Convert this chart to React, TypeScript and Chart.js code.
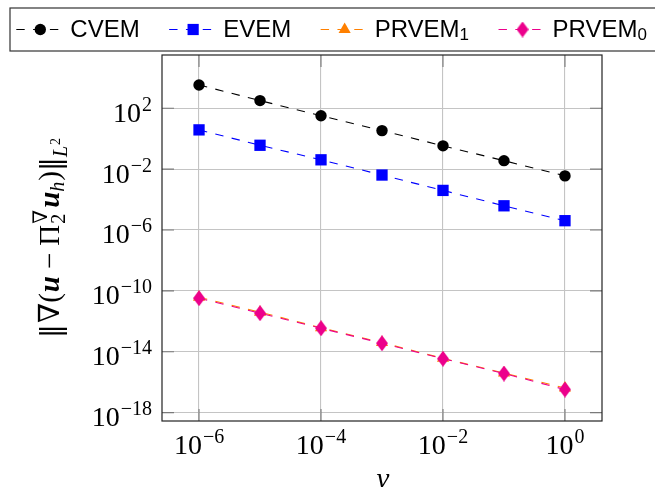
import React, { useEffect, useRef } from "react";
import { Chart, registerables } from "chart.js";

Chart.register(...registerables);

// ---------- data ----------
const nu = [1e-6, 1e-5, 1e-4, 1e-3, 1e-2, 1e-1, 1];
const cvem = [3.4e3, 3.2e2, 3.2e1, 3.4, 3.4e-1, 3.6e-2, 3.6e-3];
const evem = [3.8, 3.7e-1, 4.1e-2, 4.1e-3, 4.0e-4, 3.9e-5, 4.1e-6];
const prvem1 = [3.8e-11, 4.0e-12, 3.8e-13, 4.0e-14, 3.7e-15, 4.0e-16, 4.2e-17];
const prvem0 = [3.3e-11, 3.4e-12, 3.5e-13, 3.6e-14, 3.5e-15, 3.7e-16, 3.3e-17];
const seriesLabels = ["CVEM", "EVEM", "PRVEM₁", "PRVEM₀"];
const xTickExponents = [-6, -4, -2, 0];
const yTickExponents = [2, -2, -6, -10, -14, -18];
const xTitle = "ν";

// ---------- styles ----------
const SERIF = '"Liberation Serif", "DejaVu Serif", serif';
const DJ = '"DejaVu Serif", serif';
const SANS = '"Liberation Sans", Arial, sans-serif';
const COLORS = ["#000000", "#0000ff", "#ff8000", "#ec008c"];
const DASH = [8.4, 8.4];

const SUBMAP: Record<string, string> = {
  "₀": "0", "₁": "1", "₂": "2", "₃": "3", "₄": "4",
  "₅": "5", "₆": "6", "₇": "7", "₈": "8", "₉": "9",
};

function makeDiamond(w: number, h: number, color: string) {
  const c = document.createElement("canvas");
  c.width = w;
  c.height = h;
  const g = c.getContext("2d")!;
  g.fillStyle = color;
  g.beginPath();
  g.moveTo(w / 2, 0);
  g.lineTo(w, h / 2);
  g.lineTo(w / 2, h);
  g.lineTo(0, h / 2);
  g.closePath();
  g.fill();
  return c;
}

function drawPow(
  ctx: CanvasRenderingContext2D,
  exp: number,
  x: number,
  baseY: number,
  align: "right" | "center"
) {
  const mainFont = `28px ${SERIF}`;
  const expFont = `20px ${SERIF}`;
  const expStr = exp < 0 ? "−" + Math.abs(exp) : String(exp);
  ctx.font = mainFont;
  const w1 = ctx.measureText("10").width;
  ctx.font = expFont;
  const w2 = ctx.measureText(expStr).width;
  const total = w1 + 1 + w2;
  const sx = align === "right" ? x - total : x - total / 2;
  ctx.textAlign = "left";
  ctx.textBaseline = "alphabetic";
  ctx.fillStyle = "#000";
  ctx.font = mainFont;
  ctx.fillText("10", sx, baseY);
  ctx.font = expFont;
  ctx.fillText(expStr, sx + w1 + 1, baseY - 11);
}

type Seg = { t: string; f: string; dy?: number; dx?: number; overlay?: boolean };

const yTitleSegs: Seg[] = [
  { t: "‖", f: `28px ${DJ}`, dy: 1 },
  { t: "∇(", f: `29px ${SERIF}`, dx: 1 },
  { t: "u", f: `italic bold 29px ${SERIF}`, dx: 1 },
  { t: "−", f: `29px ${SERIF}`, dx: 7 },
  { t: "Π", f: `29px ${SERIF}`, dx: 7 },
  { t: "2", f: `20px ${SERIF}`, dy: 6, dx: 1 },
  { t: "∇", f: `20px ${SERIF}`, dy: -12, overlay: true },
  { t: "u", f: `italic bold 29px ${SERIF}`, dx: 2 },
  { t: "h", f: `italic 20px ${SERIF}`, dy: 5 },
  { t: ")", f: `29px ${SERIF}`, dx: 1 },
  { t: "‖", f: `28px ${DJ}`, dy: 1 },
  { t: "L", f: `italic 20px ${SERIF}`, dy: 8 },
  { t: "2", f: `14px ${SERIF}`, dy: 1, dx: 1 },
];

function layoutSegs(ctx: CanvasRenderingContext2D, segs: Seg[]) {
  let x = 0;
  let prevStart = 0;
  let prevEnd = 0;
  const out: { s: Seg; x: number }[] = [];
  for (const s of segs) {
    ctx.font = s.f;
    const w = ctx.measureText(s.t).width;
    if (s.overlay) {
      const sx = prevStart;
      out.push({ s, x: sx });
      x = Math.max(prevEnd, sx + w);
      prevEnd = x;
    } else {
      const sx = x + (s.dx || 0);
      out.push({ s, x: sx });
      prevStart = sx;
      prevEnd = sx + w;
      x = prevEnd;
    }
  }
  return { items: out, width: x };
}

function drawLegendMarker(
  ctx: CanvasRenderingContext2D,
  i: number,
  x: number,
  y: number,
  diamond: HTMLCanvasElement
) {
  ctx.save();
  ctx.fillStyle = COLORS[i];
  ctx.beginPath();
  if (i === 0) {
    ctx.arc(x, y, 5.7, 0, Math.PI * 2);
    ctx.fill();
  } else if (i === 1) {
    ctx.fillRect(x - 5.6, y - 5.6, 11.2, 11.2);
  } else if (i === 2) {
    const r = 7;
    ctx.moveTo(x, y - r);
    ctx.lineTo(x + r * 0.866, y + r * 0.5);
    ctx.lineTo(x - r * 0.866, y + r * 0.5);
    ctx.closePath();
    ctx.fill();
  } else {
    ctx.drawImage(diamond, x - diamond.width / 2, y - diamond.height / 2);
  }
  ctx.restore();
}

export default function App() {
  const ref = useRef<HTMLCanvasElement | null>(null);

  useEffect(() => {
    const canvas = ref.current;
    if (!canvas) return;
    const diamond = makeDiamond(12, 16, COLORS[3]);

    const xMin = Math.pow(10, -6.607);
    const xMax = Math.pow(10, 0.607);
    const yMin = Math.pow(10, -18.55);
    const yMax = Math.pow(10, 5.5);

    const decor = {
      id: "decor",
      afterDraw(chart: any) {
        const ctx: CanvasRenderingContext2D = chart.ctx;
        const { left, right, top, bottom } = chart.chartArea;
        const xs = chart.scales.x;
        const ys = chart.scales.y;
        ctx.save();

        // inner tick marks
        ctx.strokeStyle = "#7a7a7a";
        ctx.lineWidth = 1.1;
        ctx.setLineDash([]);
        const tl = 12;
        ctx.beginPath();
        for (const e of yTickExponents) {
          const py = ys.getPixelForValue(Math.pow(10, e));
          ctx.moveTo(left, py);
          ctx.lineTo(left + tl, py);
          ctx.moveTo(right, py);
          ctx.lineTo(right - tl, py);
        }
        for (const e of xTickExponents) {
          const px = xs.getPixelForValue(Math.pow(10, e));
          ctx.moveTo(px, bottom);
          ctx.lineTo(px, bottom - tl);
          ctx.moveTo(px, top);
          ctx.lineTo(px, top + tl);
        }
        ctx.stroke();

        // frame
        ctx.strokeStyle = "#222";
        ctx.lineWidth = 1.2;
        ctx.strokeRect(left, top, right - left, bottom - top);

        // tick labels
        for (const e of yTickExponents) {
          const py = ys.getPixelForValue(Math.pow(10, e));
          drawPow(ctx, e, 152, py + 13.4, "right");
        }
        for (const e of xTickExponents) {
          const px = xs.getPixelForValue(Math.pow(10, e));
          drawPow(ctx, e, px, 454, "center");
        }

        // x title
        ctx.font = `italic 29px ${SERIF}`;
        ctx.textAlign = "center";
        ctx.fillStyle = "#000";
        ctx.fillText(xTitle, (left + right) / 2 + 1, 488);

        // y title (rich text, rotated)
        const lay = layoutSegs(ctx, yTitleSegs);
        ctx.save();
        ctx.translate(59, (top + bottom) / 2);
        ctx.rotate(-Math.PI / 2);
        ctx.textAlign = "left";
        for (const it of lay.items) {
          ctx.font = it.s.f;
          ctx.fillText(it.s.t, it.x - lay.width / 2, it.s.dy || 0);
        }
        ctx.restore();

        // legend
        ctx.strokeStyle = "#333";
        ctx.lineWidth = 1.2;
        ctx.strokeRect(10, 8, 700, 43);
        const cy = 29.5;
        let c = 40.3;
        seriesLabels.forEach((label, i) => {
          ctx.save();
          ctx.strokeStyle = COLORS[i];
          ctx.lineWidth = 1.2;
          ctx.setLineDash(DASH);
          ctx.beginPath();
          ctx.moveTo(c - 24, cy);
          ctx.lineTo(c + 24, cy);
          ctx.stroke();
          ctx.restore();
          drawLegendMarker(ctx, i, c, cy, diamond);
          const m = label.match(/^(.*?)([₀-₉]*)$/)!;
          const base = m[1];
          const sub = m[2].split("").map((ch) => SUBMAP[ch] || ch).join("");
          ctx.fillStyle = "#000";
          ctx.textAlign = "left";
          ctx.font = `24px ${SANS}`;
          const tx = c + 30;
          ctx.fillText(base, tx, 37.3);
          let end = tx + ctx.measureText(base).width;
          if (sub) {
            ctx.font = `17px ${SANS}`;
            ctx.fillText(sub, end, 40.3);
            end += ctx.measureText(sub).width;
          }
          c = end + 53.5;
        });

        ctx.restore();
      },
    };

    const mk = (vals: number[]) => nu.map((x, i) => ({ x, y: vals[i] }));

    const chart = new Chart(canvas, {
      type: "line",
      data: {
        datasets: [
          {
            label: seriesLabels[0],
            data: mk(cvem),
            borderColor: COLORS[0],
            backgroundColor: COLORS[0],
            borderWidth: 1.1,
            borderDash: DASH,
            pointStyle: "circle",
            pointRadius: 5.7,
            pointBorderWidth: 0,
            pointBackgroundColor: COLORS[0],
            order: 3,
          },
          {
            label: seriesLabels[1],
            data: mk(evem),
            borderColor: COLORS[1],
            backgroundColor: COLORS[1],
            borderWidth: 1.1,
            borderDash: DASH,
            pointStyle: "rect",
            pointRadius: 8,
            pointBorderWidth: 0,
            pointBackgroundColor: COLORS[1],
            order: 2,
          },
          {
            label: seriesLabels[2],
            data: mk(prvem1),
            borderColor: COLORS[2],
            backgroundColor: COLORS[2],
            borderWidth: 1.1,
            borderDash: DASH,
            pointStyle: "triangle",
            pointRadius: 7,
            pointBorderWidth: 0,
            pointBackgroundColor: COLORS[2],
            order: 1,
          },
          {
            label: seriesLabels[3],
            data: mk(prvem0),
            borderColor: COLORS[3],
            backgroundColor: COLORS[3],
            borderWidth: 1.1,
            borderDash: DASH,
            pointStyle: diamond as any,
            pointRadius: 6,
            pointBorderWidth: 0,
            pointBackgroundColor: COLORS[3],
            order: 0,
          },
        ],
      },
      options: {
        animation: false,
        responsive: false,
        devicePixelRatio: 1,
        layout: { padding: { top: 55, right: 53, left: 0, bottom: 0 } },
        plugins: {
          legend: { display: false },
          tooltip: { enabled: false },
          title: { display: false },
        },
        scales: {
          x: {
            type: "logarithmic",
            min: xMin,
            max: xMax,
            ticks: { display: false },
            grid: { color: "#c4c4c4", lineWidth: 1.1, drawTicks: false, tickLength: 0 },
            border: { display: false },
            afterBuildTicks: (s: any) => {
              s.ticks = xTickExponents.map((e) => ({ value: Math.pow(10, e) }));
            },
            afterFit: (s: any) => {
              s.height = 66;
            },
          },
          y: {
            type: "logarithmic",
            min: yMin,
            max: yMax,
            ticks: { display: false },
            grid: { color: "#c4c4c4", lineWidth: 1.1, drawTicks: false, tickLength: 0 },
            border: { display: false },
            afterBuildTicks: (s: any) => {
              s.ticks = yTickExponents.map((e) => ({ value: Math.pow(10, e) }));
            },
            afterFit: (s: any) => {
              s.width = 162;
            },
          },
        },
      } as any,
      plugins: [decor],
    });

    return () => chart.destroy();
  }, []);

  return (
    <div style={{ position: "fixed", left: 0, top: 0, width: 655, height: 487, background: "#fff" }}>
      <canvas ref={ref} width={655} height={487} style={{ display: "block" }} />
    </div>
  );
}
